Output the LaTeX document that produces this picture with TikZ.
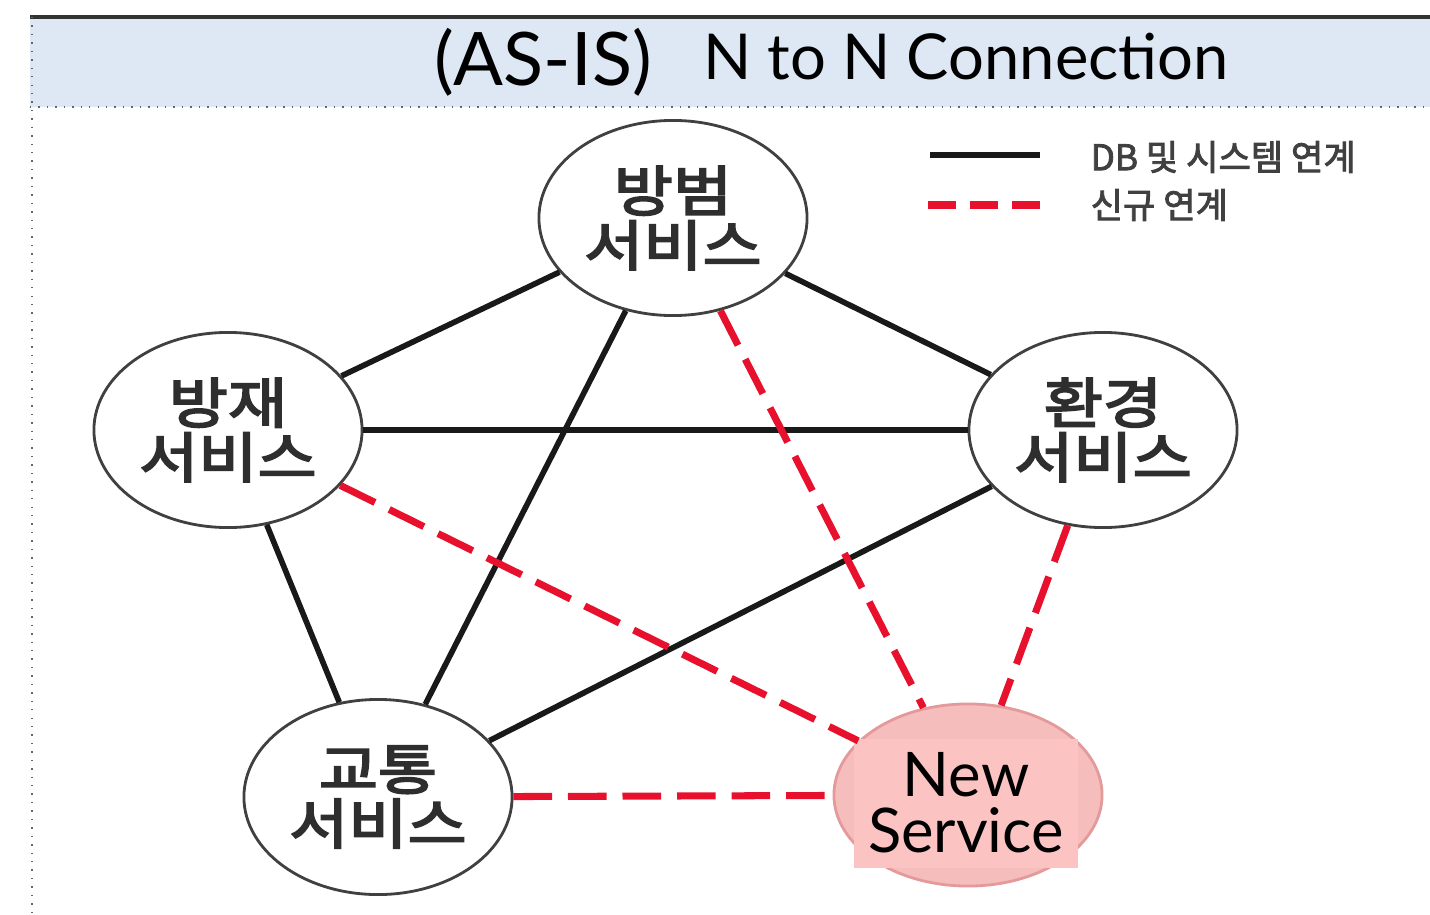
\documentclass[tikz,border=0pt]{standalone}
\usepackage{fontspec}
\setmainfont{Lato}
\newfontfamily\krfont[AutoFakeBold=2.5]{Noto Sans CJK KR}
\newfontfamily\krwide[AutoFakeBold=3.5, FakeStretch=1.18]{Noto Sans CJK KR}
\usepackage{tikz}
\usetikzlibrary{shapes.geometric, positioning}

\definecolor{headblue}{HTML}{DEE8F4}
\definecolor{linkred}{HTML}{E8112D}
\definecolor{newpink}{HTML}{F6BDBD}
\definecolor{newedge}{HTML}{E49A9A}
\definecolor{boxpink}{HTML}{FCC3C3}
\definecolor{txtgray}{HTML}{2E2E2E}

\begin{document}
\begin{tikzpicture}[x=0.01cm, y=-0.01cm,
    svc/.style={ellipse, draw=black!75, line width=0.8pt, fill=white, inner sep=0pt,
      minimum width=2.68cm, minimum height=1.95cm, align=center, text=txtgray,
      font=\krwide\bfseries\fontsize{15.5}{15.5}\selectfont},
    link/.style={line width=1.6pt, black!90},
    newlink/.style={line width=2pt, linkred, dash pattern=on 11pt off 4.5pt},
    legend/.style={anchor=west, inner sep=0pt, text=black!75, font=\krfont\bfseries\fontsize{10}{10}\selectfont}]
    \useasboundingbox (0,0) rectangle (1430,915);

    % header band
    \fill[headblue] (30,17) rectangle (1430,107);
    \draw[line width=1.2pt, black!80] (30,17) -- (1430,17);
    \draw[dotted, black!60] (30,107) -- (1430,107);
    \draw[dotted, black!60] (32,17) -- (32,915);
    \node[font=\fontsize{21}{21}\selectfont] (asis) at (543,62) {(AS-IS)};
    \node[font=\fontsize{18}{18}\selectfont] (title) at (966,57) {N to N Connection};

    \node[svc] (bangbeom) at (673,218) {방범\\서비스};
    \node[svc] (bangjae) at (228,430) {방재\\서비스};
    \node[svc] (hwangyeong) at (1103,430) {환경\\서비스};
    \node[svc] (gyotong) at (378,797) {교통\\서비스};
    \node[ellipse, draw=newedge, line width=0.8pt, fill=newpink, minimum width=2.68cm, minimum height=1.82cm] (newsvc) at (968,795) {};
    \node[fill=boxpink, inner sep=4pt, align=center, font=\fontsize{17.5}{16}\selectfont] (newtxt) at (966,803) {New\\Service};

    \draw[link] (bangbeom) -- (bangjae);
    \draw[link] (bangbeom) -- (hwangyeong);
    \draw[link] (bangbeom) -- (gyotong);
    \draw[link] (bangjae) -- (hwangyeong);
    \draw[link] (bangjae) -- (gyotong);
    \draw[link] (hwangyeong) -- (gyotong);

    \draw[newlink] (bangbeom) -- (newsvc);
    \draw[newlink] (bangjae) -- (newsvc);
    \draw[newlink] (hwangyeong) -- (newsvc);
    \draw[newlink] (gyotong) -- (newsvc);

    % legend
    \coordinate (solidA) at (930,155);
    \coordinate (solidB) at (1040,155);
    \coordinate (dashA) at (928,205);
    \coordinate (dashB) at (1040,205);
    \draw[link] (solidA) -- (solidB);
    \draw[newlink, dash pattern=on 8pt off 4pt] (dashA) -- (dashB);
    \node[legend] (legsolid) at (1090,157) {DB 및 시스템 연계};
    \node[legend] (legdash) at (1090,205) {신규 연계};
\end{tikzpicture}
\end{document}
